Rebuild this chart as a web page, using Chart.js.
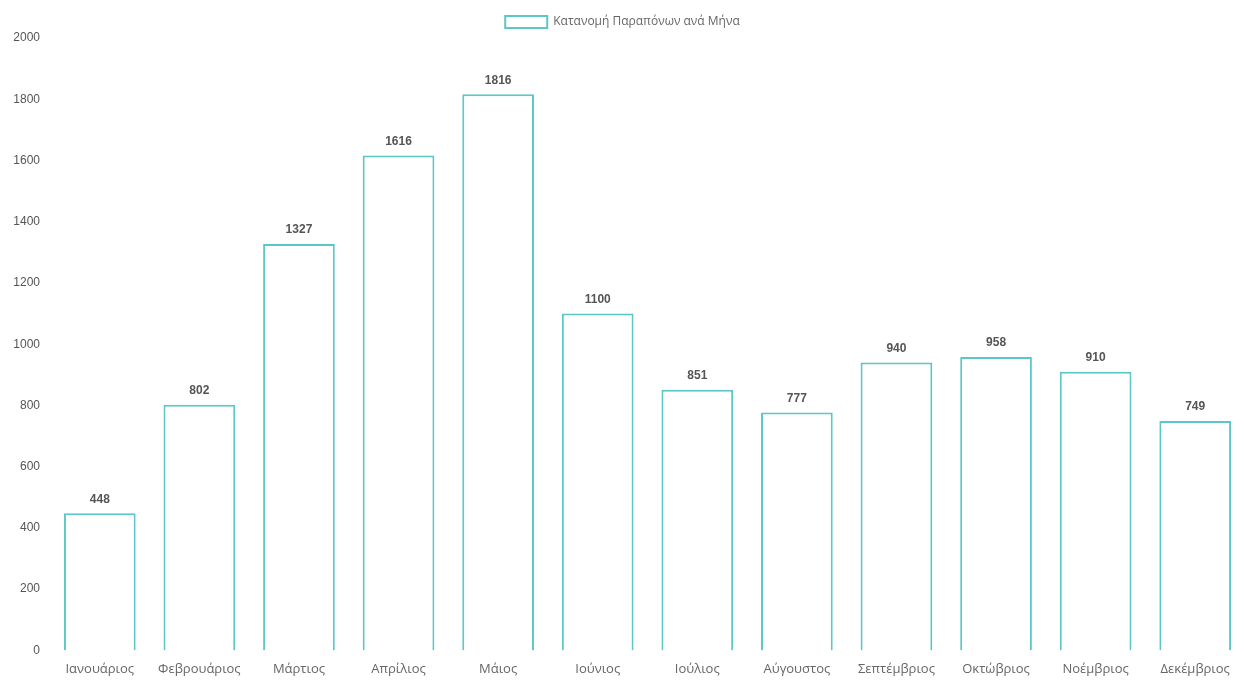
<!DOCTYPE html>
<html>
<head>
<meta charset="utf-8">
<script src="https://cdn.jsdelivr.net/npm/chart.js@4"></script>
<style>
  html, body { margin: 0; padding: 0; background: #fff; }
  #wrap { width: 1245px; height: 680px; position: relative; }
</style>
</head>
<body>
<div id="wrap"><canvas id="barChart"></canvas></div>
<script>
const months = ['Ιανουάριος', 'Φεβρουάριος', 'Μάρτιος', 'Απρίλιος', 'Μάιος', 'Ιούνιος',
    'Ιούλιος', 'Αύγουστος', 'Σεπτέμβριος', 'Οκτώβριος', 'Νοέμβριος', 'Δεκέμβριος'];
const complaints = [448, 802, 1327, 1616, 1816, 1100, 851, 777, 940, 958, 910, 749];
const seriesLabel = 'Κατανομή Παραπόνων ανά Μήνα';

// values above the bars
const valueLabels = {
    id: 'valueLabels',
    afterDatasetsDraw(chart) {
        const ctx = chart.ctx;
        ctx.save();
        ctx.font = 'bold 12px "Liberation Sans", Arial, sans-serif';
        ctx.fillStyle = '#555';
        ctx.textAlign = 'center';
        ctx.textBaseline = 'bottom';
        chart.getDatasetMeta(0).data.forEach((bar, i) => {
            ctx.fillText(complaints[i], bar.x, bar.y - 8);
        });
        ctx.restore();
    }
};

const ctx = document.getElementById('barChart').getContext('2d');

new Chart(ctx, {
    type: 'bar',
    data: {
        labels: months,
        datasets: [{
            label: seriesLabel,
            data: complaints,
            backgroundColor: '#ffffff',
            borderColor: 'rgba(75, 192, 192, 0.9)',
            borderWidth: 2
        }]
    },
    options: {
        responsive: true,
        maintainAspectRatio: false,
        animation: false,
        layout: { padding: 0 },
        plugins: {
            legend: {
                labels: {
                    color: '#666',
                    padding: 16,
                    font: { family: '"Open Sans", sans-serif', size: 12 },
                    boxWidth: 42,
                    boxHeight: 12
                }
            },
            tooltip: { enabled: false }
        },
        scales: {
            x: {
                grid: { display: false },
                border: { display: false },
                ticks: {
                    color: '#666',
                    font: { family: '"Open Sans", sans-serif', size: 13 }
                }
            },
            y: {
                min: 0,
                max: 2000,
                grid: { display: false },
                border: { display: false },
                afterFit(axis) { axis.width = 50; },
                ticks: {
                    stepSize: 200,
                    color: '#555',
                    padding: 2,
                    callback: v => String(v),
                    font: { family: '"Liberation Sans", Arial, sans-serif', size: 12 }
                }
            }
        }
    },
    plugins: [valueLabels]
});
</script>
</body>
</html>
